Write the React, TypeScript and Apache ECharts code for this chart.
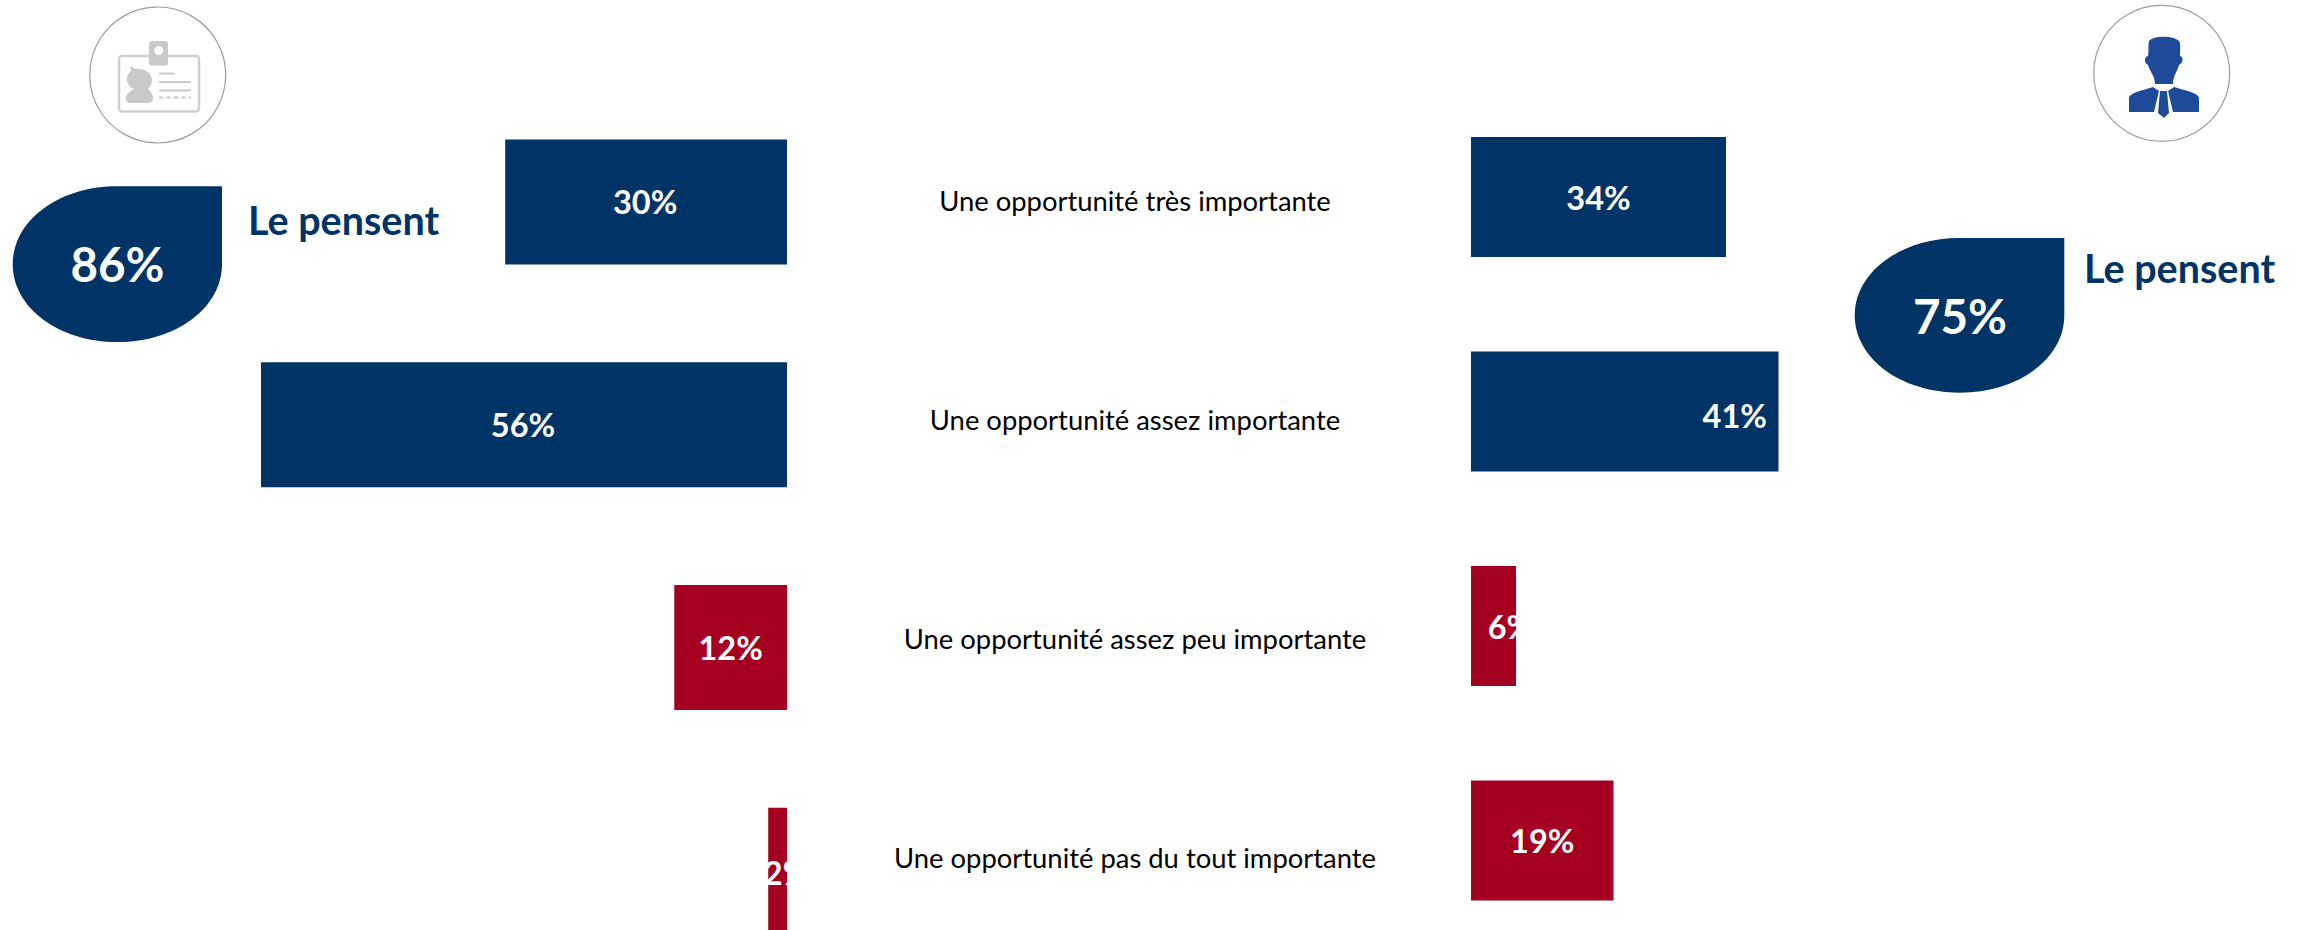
import React, { useEffect, useRef } from "react";
import * as echarts from "echarts";

const categories = [
  "Une opportunité très importante",
  "Une opportunité assez importante",
  "Une opportunité assez peu importante",
  "Une opportunité pas du tout importante",
];
const leftValues = [30, 56, 12, 2];
const rightValues = [34, 41, 6, 19];
const leftTotal = "86%";
const rightTotal = "75%";
const totalCaption = "Le pensent";

const NAVY = "#003366";
const RED = "#A50021";
const FONT = "Lato, Carlito, sans-serif";
const barColors = [NAVY, NAVY, RED, RED];

// drift of the labels that do not sit in the middle of their bar
const leftLabelShift = [[-1, 0], [-1, 0], [0, 0], [9, 2]];
const rightLabelShift = [[0, 0], [110, 4], [17, 0], [0, 0]];

const DROP = "M50 0 L100 0 L100 50 C100 78 78 100 50 100 C22 100 0 78 0 50 C0 22 22 0 50 0 Z";
const PERSON =
  "M2149 41 C2153 36 2172 35 2179 41 C2181 43 2180 52 2180 56 C2184 57 2183 63 2179 65 C2177 72 2173 76 2173 84 L2155 84 C2155 76 2150 72 2148 65 C2144 63 2144 57 2148 56 C2149 52 2148 44 2149 41 Z";
const BODY_L = "M2129 112 L2129 98 C2130 92 2145 90 2153 87 L2159 91 L2154 112 Z";
const BODY_R = "M2173 112 L2168 91 L2174 87 C2182 90 2198 92 2199 98 L2199 112 Z";
const TIE = "M2160 91 L2167 91 L2169 113 L2164 118 L2158 113 Z";
const CARD_HEAD =
  "M130 66 L136 69 C144 68 152 73 152 80 C152 84 150 87 148 89 C151 92 153 94 153 98 C153 102 150 103 147 103 L131 103 C127 103 125 101 126 97 C127 93 131 91 134 89 C129 87 127 83 127 79 C127 75 130 72 131 71 Z";

echarts.graphic.registerShape("drop", echarts.graphic.extendPath(DROP, {}));
echarts.graphic.registerShape("person", echarts.graphic.extendPath(PERSON, {}));
echarts.graphic.registerShape("bodyL", echarts.graphic.extendPath(BODY_L, {}));
echarts.graphic.registerShape("bodyR", echarts.graphic.extendPath(BODY_R, {}));
echarts.graphic.registerShape("tie", echarts.graphic.extendPath(TIE, {}));
echarts.graphic.registerShape("cardHead", echarts.graphic.extendPath(CARD_HEAD, {}));

const barSeries = (values: number[], shift: number[][], idx: number, width: number) => ({
  type: "bar",
  xAxisIndex: idx,
  yAxisIndex: idx,
  barWidth: width,
  silent: true,
  data: values.map((v, i) => ({
    value: v,
    itemStyle: { color: barColors[i] },
    label: { offset: shift[i] },
  })),
  label: {
    show: true,
    position: "inside",
    formatter: "{c}%",
    color: "#fff",
    fontFamily: FONT,
    fontWeight: "bold",
    fontSize: 32.5,
  },
});

const hiddenValue = (gridIndex: number, max: number, inverse = false) => ({
  type: "value",
  gridIndex,
  min: 0,
  max,
  inverse,
  show: false,
});
const hiddenCat = (gridIndex: number) => ({
  type: "category",
  gridIndex,
  inverse: true,
  data: categories,
  axisLine: { show: false },
  axisTick: { show: false },
  axisLabel: { show: false },
});

const ICON_GREY = "#c9c9c9";
const ICON_BLUE = "#1F4A9A";

const graphic = [
  { type: "circle", shape: { cx: 157.7, cy: 75, r: 68 }, style: { fill: "#fff", stroke: "#9c9c9c", lineWidth: 1.2 } },
  { type: "circle", shape: { cx: 2161.7, cy: 73.3, r: 68 }, style: { fill: "#fff", stroke: "#9c9c9c", lineWidth: 1.2 } },
  { type: "rect", shape: { x: 119, y: 56, width: 80, height: 55.5, r: 3 }, style: { fill: "#fff", stroke: "#d0d0d0", lineWidth: 2.5 } },
  { type: "rect", shape: { x: 149, y: 41, width: 19, height: 24.5, r: 3 }, style: { fill: ICON_GREY } },
  { type: "circle", shape: { cx: 158.7, cy: 50.5, r: 4.5 }, style: { fill: "#fff" } },
  { type: "cardHead", x: 0, y: 0, style: { fill: ICON_GREY } },
  { type: "line", shape: { x1: 159, y1: 73.5, x2: 175, y2: 73.5 }, style: { stroke: ICON_GREY, lineWidth: 2 } },
  { type: "line", shape: { x1: 159, y1: 82, x2: 191, y2: 82 }, style: { stroke: ICON_GREY, lineWidth: 2 } },
  { type: "line", shape: { x1: 159, y1: 90.5, x2: 191, y2: 90.5 }, style: { stroke: ICON_GREY, lineWidth: 2 } },
  { type: "line", shape: { x1: 159, y1: 97.5, x2: 191, y2: 97.5 }, style: { stroke: ICON_GREY, lineWidth: 2, lineDash: [4, 3.5] } },
  { type: "person", x: 0, y: 0, style: { fill: ICON_BLUE } },
  { type: "bodyL", x: 0, y: 0, style: { fill: ICON_BLUE } },
  { type: "bodyR", x: 0, y: 0, style: { fill: ICON_BLUE } },
  { type: "tie", x: 0, y: 0, style: { fill: ICON_BLUE } },
  { type: "drop", x: 12.7, y: 186.3, scaleX: 2.093, scaleY: 1.557, style: { fill: NAVY } },
  { type: "drop", x: 1854.7, y: 238, scaleX: 2.096, scaleY: 1.547, style: { fill: NAVY } },
  { type: "text", x: 117.5, y: 263.5, style: { text: leftTotal, fill: "#fff", font: `bold 47.5px ${FONT}`, textAlign: "center", textVerticalAlign: "middle" } },
  { type: "text", x: 1960, y: 315.5, style: { text: rightTotal, fill: "#fff", font: `bold 47.5px ${FONT}`, textAlign: "center", textVerticalAlign: "middle" } },
  { type: "text", x: 248, y: 219.5, style: { text: totalCaption, fill: NAVY, font: `bold 39.5px ${FONT}`, textAlign: "left", textVerticalAlign: "middle" } },
  { type: "text", x: 2084, y: 267.5, style: { text: totalCaption, fill: NAVY, font: `bold 39.5px ${FONT}`, textAlign: "left", textVerticalAlign: "middle" } },
];

export default function App() {
  const ref = useRef<HTMLDivElement>(null);
  useEffect(() => {
    document.body.style.margin = "0";
    const chart = echarts.init(ref.current!, undefined, { renderer: "svg" });
    chart.setOption({
      animation: false,
      backgroundColor: "#fff",
      grid: [
        { left: 261, width: 526, top: 90.5, height: 891 },
        { left: 1471, width: 307.5, top: 89.8, height: 858 },
        { left: 1135, width: 10, top: 91.2, height: 876 },
      ],
      xAxis: [hiddenValue(0, 56, true), hiddenValue(1, 41), hiddenValue(2, 1)],
      yAxis: [
        hiddenCat(0),
        hiddenCat(1),
        {
          ...hiddenCat(2),
          axisLabel: {
            show: true,
            interval: 0,
            margin: 0,
            align: "center",
            color: "#000",
            fontFamily: FONT,
            fontSize: 27.4,
          },
        },
      ],
      series: [barSeries(leftValues, leftLabelShift, 0, 125), barSeries(rightValues, rightLabelShift, 1, 120)],
      graphic,
    });
    return () => chart.dispose();
  }, []);
  return (
    <div style={{ position: "absolute", left: 0, top: 0, width: 2297, height: 930, overflow: "hidden" }}>
      <div ref={ref} style={{ width: 2297, height: 1000 }} />
    </div>
  );
}
